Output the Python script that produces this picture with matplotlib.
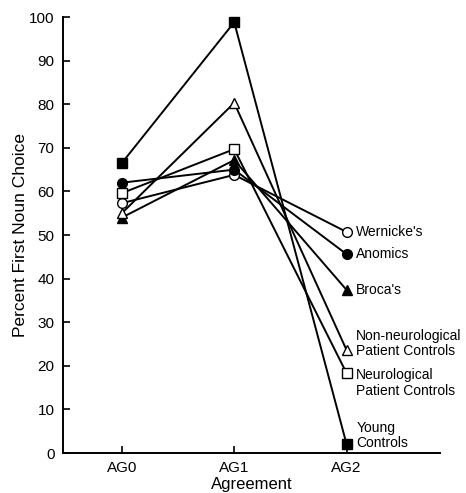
import numpy as np
import matplotlib.pyplot as plt

plt.rcParams['font.family'] = ['Liberation Sans', 'DejaVu Sans']

# ---- data ----
conditions = ['AG0', 'AG1', 'AG2']
groups = ["Wernicke's", 'Anomics', "Broca's",
          'Non-neurological\nPatient Controls',
          'Neurological\nPatient Controls',
          'Young\nControls']
wernicke   = [57.3, 63.8, 50.7]
anomics    = [62.0, 65.0, 45.6]
broca      = [54.0, 67.2, 37.4]
non_neuro  = [55.0, 80.3, 23.6]
neuro      = [59.6, 69.7, 18.3]
young      = [66.5, 98.8, 2.0]

series = [wernicke, anomics, broca, non_neuro, neuro, young]
markers = ['o', 'o', '^', '^', 's', 's']
filled = [False, True, True, False, False, True]
label_dy = [0, 0, 0, 4.5, -7, 6.5]   # label offsets in points

fig = plt.figure(figsize=(4.66, 4.93), dpi=100)
ax = fig.add_axes([0.135, 0.081, 0.809, 0.8845])

x = np.arange(len(conditions))
for vals, m, f, name, dy in zip(series, markers, filled, groups, label_dy):
    ax.plot(x, vals, color='black', linewidth=1.4, marker=m, markersize=7,
            markerfacecolor='black' if f else 'white', markeredgecolor='black',
            markeredgewidth=1.0, clip_on=False, zorder=3)
    ax.annotate(name, (x[-1], vals[-1]), xytext=(7, dy), textcoords='offset points',
                ha='left', va='center', fontsize=10, linespacing=1.1)

ax.set_xlim(-0.524, 2.83)
ax.set_ylim(0, 100)
ax.set_xticks(x)
ax.set_xticklabels(conditions)
ax.set_yticks(np.arange(0, 101, 10))
ax.tick_params(direction='in', length=5, width=1.2, labelsize=11, pad=6)
ax.tick_params(axis='x', pad=6)
for s in ['top', 'right']:
    ax.spines[s].set_visible(False)
for s in ['left', 'bottom']:
    ax.spines[s].set_linewidth(1.4)

ax.set_xlabel('Agreement', fontsize=12, labelpad=1)
ax.set_ylabel('Percent First Noun Choice', fontsize=12.5, labelpad=1)

fig.savefig('out.png', dpi=100)
